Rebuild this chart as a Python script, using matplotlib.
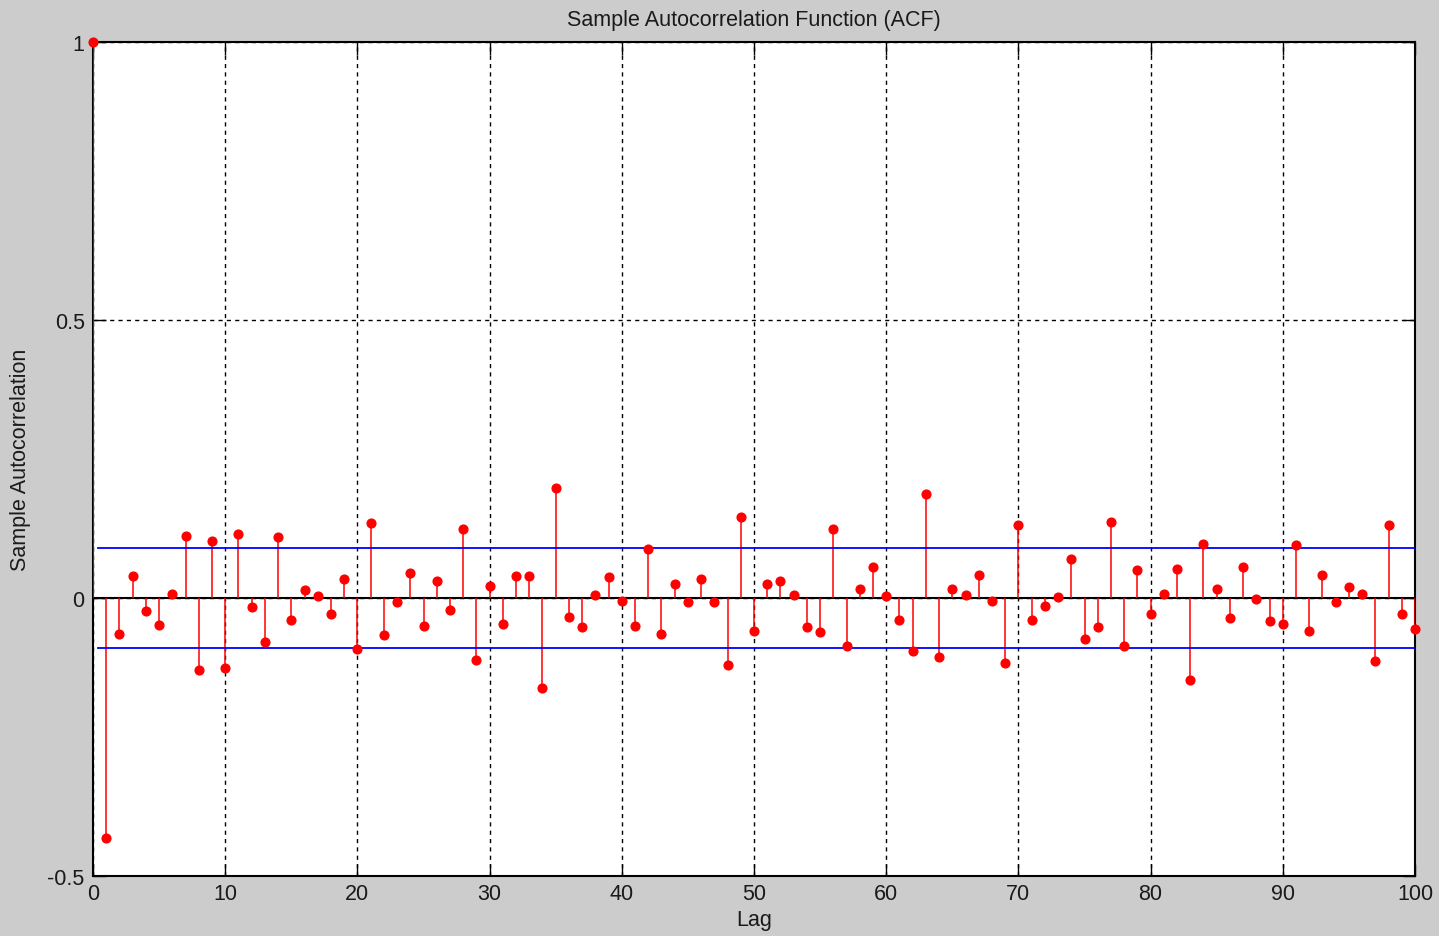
import numpy as np
import matplotlib
matplotlib.use("Agg")
import matplotlib.pyplot as plt

# sample ACF values, lags 0..100
lags = np.arange(0, 101)
acf = [
    1.000, -0.432, -0.064, 0.039, -0.023, -0.048, 0.008, 0.112, -0.129, 0.103,
    -0.126, 0.115, -0.016, -0.079, 0.109, -0.040, 0.014, 0.003, -0.028, 0.034,
    -0.092, 0.134, -0.067, -0.008, 0.045, -0.050, 0.031, -0.022, 0.125, -0.112,
    0.022, -0.047, 0.039, 0.039, -0.162, 0.198, -0.034, -0.053, 0.005, 0.037,
    -0.006, -0.050, 0.089, -0.064, 0.025, -0.008, 0.034, -0.008, -0.120, 0.145,
    -0.059, 0.025, 0.031, 0.006, -0.053, -0.062, 0.125, -0.086, 0.017, 0.056,
    0.003, -0.039, -0.095, 0.187, -0.106, 0.017, 0.005, 0.041, -0.006, -0.117,
    0.131, -0.039, -0.014, 0.001, 0.070, -0.073, -0.053, 0.137, -0.086, 0.051,
    -0.028, 0.008, 0.053, -0.148, 0.098, 0.017, -0.036, 0.056, -0.002, -0.042,
    -0.047, 0.095, -0.059, 0.041, -0.008, 0.020, 0.008, -0.114, 0.131, -0.028,
    -0.056,
]
bound = 0.0905  # confidence bounds
bound_start = 0.4

xticks = list(range(0, 101, 10))
yticks = [-0.5, 0, 0.5, 1]
yticklabels = ["-0.5", "0", "0.5", "1"]

plt.rcParams['font.family'] = ['Liberation Sans', 'DejaVu Sans']
txt = "#1a1a1a"
fs = 15.5

fig = plt.figure(figsize=(14.39, 9.37), dpi=100, facecolor="#cccccc")
ax = fig.add_axes([93 / 1439, 60 / 937, 1322 / 1439, 834 / 937])
ax.set_facecolor("white")

ax.set_xlim(0, 100)
ax.set_ylim(-0.5, 1)
ax.set_xticks(xticks)
ax.set_yticks(yticks)
ax.set_yticklabels(yticklabels)

ax.grid(True, color="black", linestyle=(0, (3, 3)), linewidth=1.0)
ax.set_axisbelow(True)

ax.axhline(0, color="black", linewidth=1.5, zorder=2)

ax.vlines(lags, 0, acf, color="red", linewidth=1.1, zorder=3)
ax.plot(lags, acf, "o", color="red", markersize=6.3, zorder=4, clip_on=False)

ax.plot([bound_start, 100], [bound, bound], color="blue", linewidth=1.3, zorder=3)
ax.plot([bound_start, 100], [-bound, -bound], color="blue", linewidth=1.3, zorder=3)

ax.tick_params(direction="in", length=9, width=1, labelsize=fs, colors="black",
               labelcolor=txt, top=True, right=True, pad=5)
ax.tick_params(axis="y", pad=6)
for s in ax.spines.values():
    s.set_linewidth(1.5)
    s.set_color("black")

ax.set_title("Sample Autocorrelation Function (ACF)", fontsize=fs, pad=12, color=txt)
ax.set_xlabel("Lag", fontsize=fs, labelpad=4, color=txt)
ax.set_ylabel("Sample Autocorrelation", fontsize=fs, labelpad=12, color=txt)

fig.savefig("out.png", dpi=100, facecolor=fig.get_facecolor())
